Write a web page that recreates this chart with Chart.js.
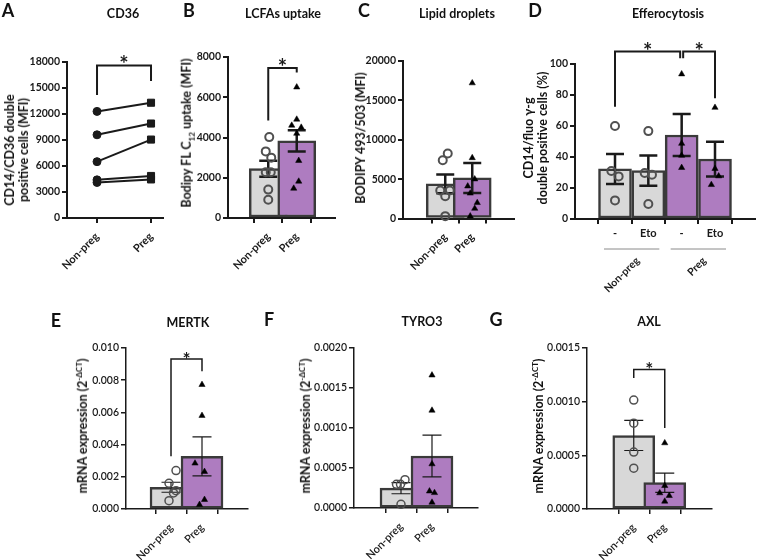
<!DOCTYPE html>
<html>
<head>
<meta charset="utf-8">
<script src="https://cdn.jsdelivr.net/npm/chart.js@4"></script>
<style>
  body { margin: 0; background: #fff; }
  #fig { position: relative; width: 761px; height: 560px; overflow: hidden; font-family: Lato, "Open Sans", sans-serif; color: #111; }
  #fig canvas { position: absolute; left: 0; top: 0; }
  .t { position: absolute; white-space: nowrap; font-weight: bold; transform: translate(-50%, -50%); }
  .letter { font-size: 18px; }
  .title { font-size: 12.5px; }
  .ytitle { font-size: 12.5px; text-align: center; line-height: 14px; transform: translate(-50%, -50%) rotate(-90deg); }
  .ytitle sub, .ytitle sup { font-size: 8px; }
</style>
</head>
<body>
<div id="fig">
  <canvas id="cA" width="761" height="640"></canvas>
  <canvas id="cB" width="761" height="640"></canvas>
  <canvas id="cC" width="761" height="640"></canvas>
  <canvas id="cD" width="761" height="640"></canvas>
  <canvas id="cE" width="761" height="640"></canvas>
  <canvas id="cF" width="761" height="640"></canvas>
  <canvas id="cG" width="761" height="640"></canvas>

  <div class="t letter" style="left:8px;top:10px">A</div>
  <div class="t letter" style="left:189px;top:10px">B</div>
  <div class="t letter" style="left:364px;top:10px">C</div>
  <div class="t letter" style="left:535px;top:10px">D</div>
  <div class="t letter" style="left:56px;top:320px">E</div>
  <div class="t letter" style="left:269px;top:319px">F</div>
  <div class="t letter" style="left:496px;top:319px">G</div>

  <div class="t title" style="left:123px;top:13px">CD36</div>
  <div class="t title" style="left:283px;top:13px">LCFAs uptake</div>
  <div class="t title" style="left:457px;top:13px">Lipid droplets</div>
  <div class="t title" style="left:668px;top:13px">Efferocytosis</div>
  <div class="t title" style="left:188px;top:322px">MERTK</div>
  <div class="t title" style="left:422px;top:321px">TYRO3</div>
  <div class="t title" style="left:649px;top:321px">AXL</div>

  <div class="t ytitle" style="left:17px;top:150px">CD14/CD36 double<br>positive cells (MFI)</div>
  <div class="t ytitle" style="left:189px;top:133px">Bodipy FL C<sub>12</sub> uptake (MFI)</div>
  <div class="t ytitle" style="left:361px;top:138px">BODIPY 493/503 (MFI)</div>
  <div class="t ytitle" style="left:536px;top:138px">CD14/fluo γ-g<br>double positive cells (%)</div>
  <div class="t ytitle" style="left:81px;top:426px">mRNA expression (2<sup>-ΔCT</sup>)</div>
  <div class="t ytitle" style="left:304px;top:426px">mRNA expression (2<sup>-ΔCT</sup>)</div>
  <div class="t ytitle" style="left:537px;top:426px">mRNA expression (2<sup>-ΔCT</sup>)</div>
</div>
<script>
const groups = ["Non-preg", "Preg"];

// A - CD36, paired donors
const aNonPreg = [12300, 9600, 6500, 4400, 4100];
const aPreg = [13300, 10900, 9050, 4850, 4450];
const aTicks = [0, 3000, 6000, 9000, 12000, 15000, 18000];
const aBracket = [0, 1, 14200, 17600, 15800]; // from, to, left leg, top, right leg

// B - LCFAs uptake
const bMeans = [2450, 3830];
const bSem = [400, 530];
const bNonPreg = [4020, 3310, 3000, 2270, 2270, 1410, 910];
const bPreg = [6500, 4900, 4600, 4500, 4200, 2850, 1820, 1470];
const bTicks = [0, 2000, 4000, 6000, 8000];
const bBracket = [0, 1, 4850, 7450, 7230];

// C - Lipid droplets
const cMeans = [4400, 5150];
const cSem = [1200, 1900];
const cNonPreg = [8260, 7400, 3560, 3560, 2840, 300];
const cPreg = [17200, 7700, 5000, 4100, 3200, 2000, 1270, 300];
const cTicks = [0, 5000, 10000, 15000, 20000];

// D - Efferocytosis
const dLabels = ["-", "Eto", "-", "Eto"];
const dMeans = [32.3, 31.2, 54.2, 38.7];
const dSem = [9.7, 9.7, 13.5, 11.2];
const dNonPregCtl = [60, 31, 27.5, 12];
const dNonPregEto = [56.7, 29.7, 28.6, 9.7];
const dPregCtl = [93.5, 48.7, 41, 33.1];
const dPregEto = [71.9, 32.5, 27.7, 22.1];
const dTicks = [0, 20, 40, 60, 80, 100];
const dBracket1 = [0, 2, 72.5, 108, 103.7];
const dBracket2 = [2, 3, 103.7, 108, 77.9];

// E - MERTK
const eMeans = [0.00135, 0.00327];
const eSem = [0.00031, 0.00121];
const eNonPreg = [0.00239, 0.0016, 0.00114, 0.0010, 0.00052];
const ePreg = [0.00772, 0.0058, 0.00284, 0.00232, 0.00058, 0.00027];
const eTicks = [0, 0.002, 0.004, 0.006, 0.008, 0.010];
const eBracket = [0, 1, 0.00327, 0.00932, 0.00855];

// F - TYRO3
const fMeans = [0.000248, 0.00065];
const fSem = [0.00007, 0.00026];
const fNonPreg = [0.000296, 0.000296, 0.000354, 0.000046];
const fPreg = [0.00166, 0.00122, 0.00055, 0.00021, 0.00019, 0.00007];
const fTicks = [0, 0.0005, 0.001, 0.0015, 0.002];

// G - AXL
const gMeans = [0.000685, 0.000245];
const gSem = [0.00014, 0.00009];
const gNonPreg = [0.001015, 0.0008, 0.00053, 0.00038];
const gPreg = [0.000615, 0.000217, 0.000149, 0.000124, 0.000071];
const gTicks = [0, 0.0005, 0.001, 0.0015];
const gBracket = [0, 1, 0.00122, 0.0013, 0.000755];

const GREY = "#d8d8d8";
const PURPLE = "#ae7cc0";
const EDGE = "#3a3a3a";
const INK = "#1a1a1a";
const CANVAS_H = 640;
const X_BAND = 70;

const BOLD = {
  yFont: { family: "Lato", size: 10.5, weight: "bold" }, xFont: { family: "Lato", size: 11, weight: "bold" },
  axisW: 2, barW: 2.5, errW: 2.5, cap: 9, brW: 2, star: 22, ring: 2,
};
const THIN = {
  yFont: { family: "Lato", size: 10.5, weight: "600" }, xFont: { family: "Lato", size: 11, weight: "600" },
  axisW: 1.5, barW: 2.5, errW: 1.2, cap: 9.5, brW: 1.5, star: 19, ring: 1.5,
};

// px jitter of the dots inside each bar (layout only)
const JITTER = {
  B: [[2, -5, 6, -5, 5, 0, 0], [0, 0, -10, 9, 0, 4, 4, -6]],
  C: [[5, -5, -10, 9, 0, 0], [0, 0, 5, -9, -4, 10, 5, -4]],
  D: [[0, -5, 5, 0], [0, -5, 5, 0], [0, 0, 0, 0], [0, 0, 5, -5]],
  E: [[10, -4, 10, 5, -4], [0, 0, -14, 5, 5, -5]],
  F: [[-9, -1, 8, 0], [0, 0, 0, -5, 5, 0]],
  G: [[0, 0, 0, 0], [0, 0, -10, 9, 0]],
};

function marks(spec, style) {
  return {
    id: "marks",
    afterDatasetDraw(chart, args) {
      if (args.index !== 0 || !spec.means) return;
      const { ctx, scales: { x, y } } = chart;
      ctx.save();
      ctx.strokeStyle = INK;
      ctx.lineWidth = style.errW;
      spec.means.forEach((m, i) => {
        const px = x.getPixelForValue(i);
        const top = y.getPixelForValue(m + spec.sem[i]);
        const bot = y.getPixelForValue(m - spec.sem[i]);
        ctx.beginPath();
        ctx.moveTo(px, top); ctx.lineTo(px, bot);
        ctx.moveTo(px - style.cap, top); ctx.lineTo(px + style.cap, top);
        ctx.moveTo(px - style.cap, bot); ctx.lineTo(px + style.cap, bot);
        ctx.stroke();
      });
      ctx.restore();
    },
    afterDraw(chart) {
      const { ctx, chartArea, scales: { x, y } } = chart;
      ctx.save();
      const brs = spec.brackets || [];
      brs.forEach((b) => {
        let x1 = x.getPixelForValue(b[0]);
        let x2 = x.getPixelForValue(b[1]);
        if (brs.some((o) => o !== b && o[0] === b[1])) x2 -= 1.5;
        if (brs.some((o) => o !== b && o[1] === b[0])) x1 += 1.5;
        const yt = y.getPixelForValue(b[3]);
        ctx.strokeStyle = INK;
        ctx.lineWidth = style.brW;
        ctx.beginPath();
        ctx.moveTo(x1, y.getPixelForValue(b[2]));
        ctx.lineTo(x1, yt);
        ctx.lineTo(x2, yt);
        ctx.lineTo(x2, y.getPixelForValue(b[4]));
        ctx.stroke();
        ctx.fillStyle = INK;
        ctx.font = `bold ${style.star}px Lato`;
        ctx.textAlign = "center";
        ctx.textBaseline = "alphabetic";
        ctx.fillText("*", (x1 + x2) / 2, yt + 7);
      });
      (spec.spans || []).forEach((g) => {
        const ly = chartArea.bottom + 30;
        ctx.strokeStyle = "#8a8a8a";
        ctx.lineWidth = 1;
        ctx.beginPath();
        ctx.moveTo(x.getPixelForValue(g.c - 0.83), ly);
        ctx.lineTo(x.getPixelForValue(g.c + 0.83), ly);
        ctx.stroke();
        ctx.save();
        ctx.translate(x.getPixelForValue(g.c) + 6, ly + 10);
        ctx.rotate(-Math.PI / 4);
        ctx.fillStyle = INK;
        ctx.font = "bold 10.5px Lato";
        ctx.textAlign = "right";
        ctx.textBaseline = "middle";
        ctx.fillText(g.label, 0, 0);
        ctx.restore();
      });
      ctx.restore();
    },
  };
}

function scales(geo, xLabels, yTicks, yFmt, style) {
  const grid = { drawOnChartArea: false, drawTicks: true, tickLength: 5, color: INK, lineWidth: style.axisW };
  const border = { display: true, color: INK, width: style.axisW };
  return {
    x: {
      type: "linear", min: geo.xMin, max: geo.xMax,
      afterBuildTicks: (s) => { s.ticks = xLabels.map((_, i) => ({ value: i })); },
      afterFit: (s) => { s.height = X_BAND; },
      ticks: { callback: (v) => xLabels[v], autoSkip: false, minRotation: geo.rot, maxRotation: geo.rot, font: style.xFont, color: INK, padding: geo.rot ? 7 : 3 },
      grid, border,
    },
    y: {
      type: "linear", min: 0, max: yTicks[yTicks.length - 1],
      afterBuildTicks: (s) => { s.ticks = yTicks.map((v) => ({ value: v })); },
      afterFit: (s) => { s.width = 50; },
      ticks: { callback: yFmt, font: style.yFont, color: INK, padding: 2 },
      grid, border,
    },
  };
}

function baseOptions(geo) {
  return {
    responsive: false,
    animation: false,
    events: [],
    layout: { padding: { left: geo.left - 50, right: 761 - geo.right, top: geo.top, bottom: CANVAS_H - geo.bottom - X_BAND } },
    plugins: { legend: { display: false }, tooltip: { enabled: false } },
  };
}

function dotSet(vals, xc, jit, unit, preg, style) {
  return {
    type: "scatter",
    data: vals.map((v, k) => ({ x: xc + jit[k] / unit, y: v })),
    pointStyle: preg ? "triangle" : "circle",
    pointRadius: preg ? 3.6 : 4,
    pointBorderWidth: preg ? 0.5 : style.ring,
    pointBorderColor: preg ? "#000" : "#505050",
    pointBackgroundColor: preg ? "#000" : "rgba(0,0,0,0)",
    clip: false,
    order: 0,
  };
}

function barPanel(id, geo, spec, style) {
  const unit = (geo.right - geo.left) / (geo.xMax - geo.xMin);
  const datasets = [{
    type: "bar",
    data: spec.means.map((m, i) => ({ x: i, y: m })),
    backgroundColor: spec.preg.map((p) => (p ? PURPLE : GREY)),
    borderColor: EDGE,
    borderWidth: style.barW,
    borderSkipped: false,
    barThickness: geo.barW,
    order: 1,
  }];
  spec.dots.forEach((vals, i) => datasets.push(dotSet(vals, i, spec.jitter[i], unit, spec.preg[i], style)));
  const options = baseOptions(geo);
  options.scales = scales(geo, spec.labels, spec.ticks, spec.fmt, style);
  return new Chart(document.getElementById(id), { type: "bar", data: { datasets }, options, plugins: [marks(spec, style)] });
}

// Panel A: paired lines
(function () {
  const geo = { left: 67, right: 163, top: 62, bottom: 218, xMin: -0.556, xMax: 1.222, rot: 45 };
  const datasets = aNonPreg.map((v, i) => ({
    data: [{ x: 0, y: v }, { x: 1, y: aPreg[i] }],
    borderColor: INK, borderWidth: 2,
    pointStyle: ["circle", "rect"], pointRadius: [4, 5],
    pointBackgroundColor: INK, pointBorderColor: INK, pointBorderWidth: 1,
    clip: false,
  }));
  const options = baseOptions(geo);
  options.scales = scales(geo, groups, aTicks, (v) => String(v), BOLD);
  new Chart(document.getElementById("cA"), { type: "line", data: { datasets }, options, plugins: [marks({ brackets: [aBracket] }, BOLD)] });
})();

const fmt0 = (v) => String(v);

barPanel("cB", { left: 228, right: 335, top: 57, bottom: 218, xMin: -0.474, xMax: 1.404, rot: 45, barW: 38 },
  { means: bMeans, sem: bSem, dots: [bNonPreg, bPreg], preg: [false, true], jitter: JITTER.B, labels: groups, ticks: bTicks, fmt: fmt0, brackets: [bBracket] }, BOLD);

barPanel("cC", { left: 403, right: 514, top: 61, bottom: 218.5, xMin: -0.537, xMax: 1.519, rot: 45, barW: 38 },
  { means: cMeans, sem: cSem, dots: [cNonPreg, cPreg], preg: [false, true], jitter: JITTER.C, labels: groups, ticks: cTicks, fmt: fmt0 }, BOLD);

barPanel("cD", { left: 575, right: 760, top: 64, bottom: 219, xMin: -0.525, xMax: 3.525, rot: 0, barW: 33 },
  { means: dMeans, sem: dSem, dots: [dNonPregCtl, dNonPregEto, dPregCtl, dPregEto], preg: [false, false, true, true], jitter: JITTER.D,
    labels: dLabels, ticks: dTicks, fmt: fmt0, brackets: [dBracket1, dBracket2],
    spans: [{ c: 0.5, label: groups[0] }, { c: 2.5, label: groups[1] }] }, BOLD);

barPanel("cE", { left: 126, right: 248, top: 348, bottom: 509, xMin: -0.468, xMax: 1.5, rot: 45, barW: 42 },
  { means: eMeans, sem: eSem, dots: [eNonPreg, ePreg], preg: [false, true], jitter: JITTER.E, labels: groups, ticks: eTicks, fmt: (v) => v.toFixed(3), brackets: [eBracket] }, THIN);

barPanel("cF", { left: 354, right: 478, top: 348, bottom: 508, xMin: -0.516, xMax: 1.484, rot: 45, barW: 42 },
  { means: fMeans, sem: fSem, dots: [fNonPreg, fPreg], preg: [false, true], jitter: JITTER.F, labels: groups, ticks: fTicks, fmt: (v) => v.toFixed(4) }, THIN);

barPanel("cG", { left: 587, right: 712, top: 348, bottom: 509, xMin: -0.5, xMax: 1.516, rot: 45, barW: 42 },
  { means: gMeans, sem: gSem, dots: [gNonPreg, gPreg], preg: [false, true], jitter: JITTER.G, labels: groups, ticks: gTicks, fmt: (v) => v.toFixed(4), brackets: [gBracket] }, THIN);
</script>
</body>
</html>
